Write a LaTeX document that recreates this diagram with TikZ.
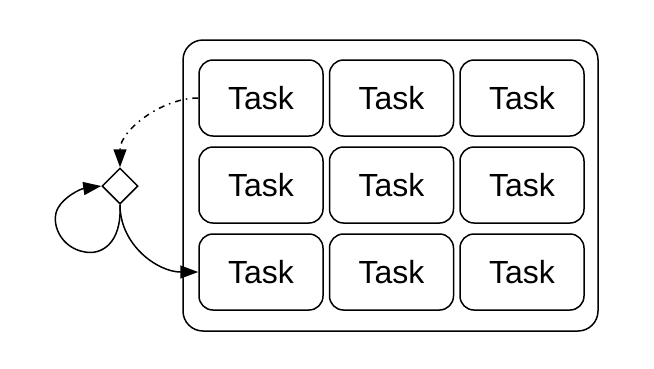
\documentclass[tikz,border=0pt]{standalone}
\usepackage{fontspec}
\setmainfont{Liberation Sans}
\usetikzlibrary{shapes.geometric,arrows.meta}
\begin{document}
\begin{tikzpicture}[x=1pt,y=-1pt,
  task/.style={draw,line width=1.5pt,rounded corners=14pt,minimum width=124pt,minimum height=76pt,inner sep=0pt,font=\fontsize{32}{32}\selectfont},
  conn/.style={line width=1.5pt,-{Triangle[length=18pt,width=13pt]}}]
\useasboundingbox (0,0) rectangle (654,368);
\node[draw,line width=1.5pt,rounded corners=20pt,minimum width=415pt,minimum height=291pt] (outer) at (390.5,185.5) {};
\foreach \c/\x in {1/261,2/391.5,3/522}{
  \foreach \r/\y in {1/98,2/185,3/272}{
    \node[task] (t\r\c) at (\x,\y) {Task};
  }
}
\node[draw,diamond,line width=1.5pt,minimum width=36pt,minimum height=36pt,inner sep=0pt] (d) at (120,186) {};
\draw[conn,dash pattern=on 6pt off 5pt on 1.5pt off 5pt] (t11.west) to[out=180,in=90,looseness=0.9] (d.north);
\draw[conn] (d.south) to[out=-90,in=180] (t31.west);
\draw[conn] (d.south) .. controls (122,245) and (100,255) .. (85,252) .. controls (60,248) and (50,222) .. (58,208) .. controls (64,197) and (80,189) .. (d.west);
\end{tikzpicture}
\end{document}
